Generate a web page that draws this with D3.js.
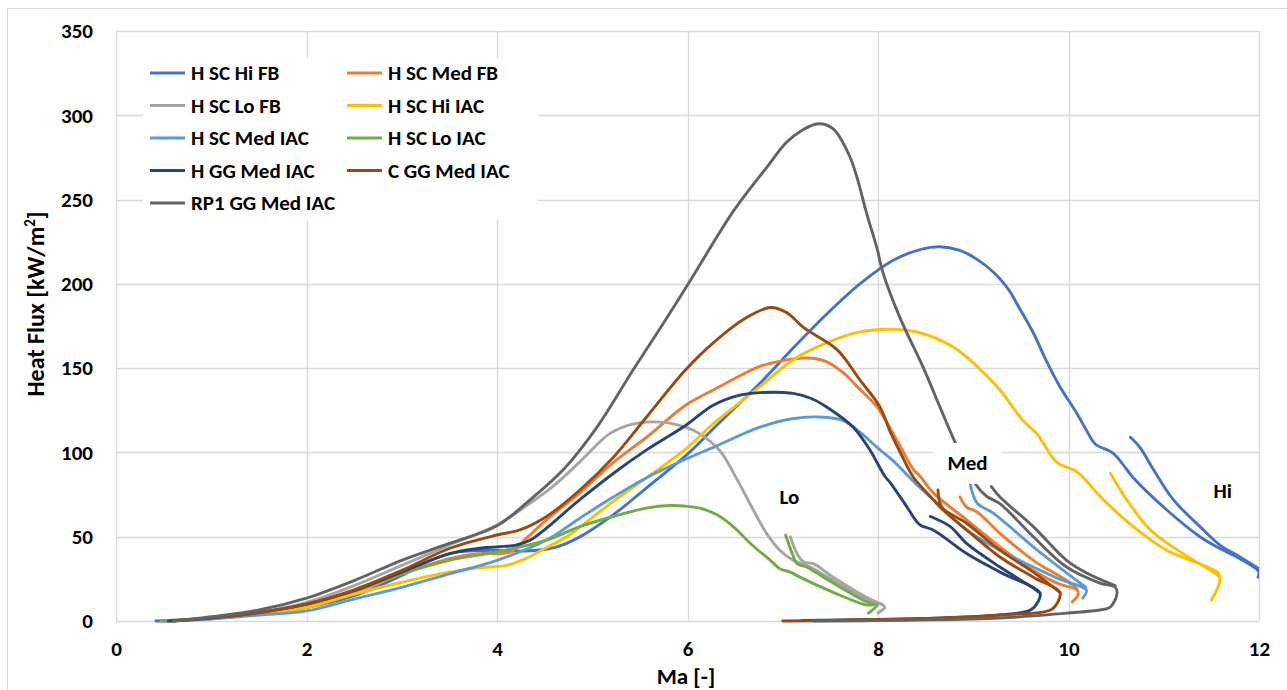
<!DOCTYPE html>
<html>
<head>
<meta charset="utf-8">
<script src="https://cdn.jsdelivr.net/npm/d3@7"></script>
<style>
  html, body { margin: 0; padding: 0; background: #fff; }
  svg { display: block; }
  text { font-family: Carlito, "Liberation Sans", Arial, sans-serif; font-weight: bold; fill: #000; }
</style>
</head>
<body>
<svg id="chart" width="1287" height="690"></svg>
<script>
// ---------------- DATA ----------------
const seriesNames = ["H SC Hi FB", "H SC Med FB", "H SC Lo FB", "H SC Hi IAC", "H SC Med IAC",
                     "H SC Lo IAC", "H GG Med IAC", "C GG Med IAC", "RP1 GG Med IAC"];
const seriesColors = ["#4472C4", "#ED7D31", "#A5A5A5", "#FFC000", "#5B9BD5",
                      "#70AD47", "#264478", "#9E480E", "#636363"];
const xTicks = [0, 2, 4, 6, 8, 10, 12];
const yTicks = [0, 50, 100, 150, 200, 250, 300, 350];

// [Ma, heat flux kW/m2]
const hScHiFB = [[0.42,0],[1,1.5],[1.5,4],[2,8],[2.5,15],[3,27],[3.3,36],[3.6,41],[4.0,42],[4.3,41.5],[4.6,43.5],[4.84,49],[5.22,63],[5.57,79],[6.0,99],[6.27,114],[6.76,141],[7.11,162],[7.46,182],[7.81,200],[8.16,214],[8.45,220.5],[8.65,222],[8.85,220],[9.0,216],[9.15,210],[9.28,203],[9.39,195],[9.46,188],[9.63,171],[9.77,154],[9.91,139],[10.09,123],[10.2,112],[10.28,105],[10.47,99.5],[10.61,90],[10.68,85],[11.03,66],[11.38,50],[11.59,43],[11.8,37],[11.97,31],[12.0,29],[11.99,26]];
const hScHiFB_b = [[10.65,109],[10.75,103],[10.89,90],[11.1,72],[11.38,56],[11.59,45],[11.8,38],[12.0,31]];

const hScMedFB = [[0.55,0],[1,1.5],[1.5,4.5],[2,9],[2.5,17],[3,28],[3.5,37],[3.8,40],[4.0,40],[4.15,41],[4.27,47],[4.52,60],[4.87,76],[5.22,94],[5.57,109],[5.98,128],[6.27,137],[6.76,151],[7.0,154.5],[7.25,156],[7.45,154],[7.64,147],[7.8,138],[7.99,127],[8.09,118],[8.23,104],[8.37,90],[8.44,86],[8.58,76],[8.93,60],[9.28,44],[9.63,30],[9.9,22],[10.09,18.4],[10.1,15.5],[10.04,11.4]];
const hScMedFB_b = [[8.86,73.6],[8.93,67.6],[9.04,64.7],[9.28,52],[9.63,36],[9.98,24],[10.09,19]];

const hScLoFB = [[0.5,0],[1,1.8],[1.5,5],[2,11],[2.5,21],[3,33],[3.5,45],[4.0,57],[4.3,68],[4.59,80],[4.88,95],[5.18,111],[5.4,116.5],[5.57,118],[5.8,117.5],[6.0,114.5],[6.13,111],[6.34,101],[6.52,84],[6.69,66],[6.83,52],[6.97,42],[7.11,36],[7.29,32],[7.53,24],[7.88,12.5],[8.05,9.5],[8.07,8],[8.0,4.7]];
const hScLoFB_b = [[7.08,50],[7.15,40],[7.22,35],[7.32,34],[7.53,26],[7.88,14],[8.05,9.5]];

const hScHiIAC = [[0.55,0],[1,1.5],[1.5,4],[2,8],[2.5,16],[3,23],[3.5,29],[3.8,31.5],[4.1,33],[4.3,37],[4.5,43],[4.73,50],[5.22,71],[5.57,85],[5.98,102],[6.27,117],[6.76,139],[7.11,155],[7.46,165],[7.81,171.5],[8.16,173],[8.44,171],[8.79,162.5],[9.04,151],[9.28,137],[9.52,119],[9.67,111],[9.73,106],[9.88,94],[10.09,88.5],[10.33,74],[10.68,56],[11.03,42],[11.24,37],[11.57,28.5],[11.59,24],[11.5,12.5]];
const hScHiIAC_b = [[10.44,87.6],[10.61,72],[10.86,54],[11.2,40],[11.52,29],[11.59,26]];

const hScMedIAC = [[0.5,0],[1,1.2],[1.5,3.5],[2,6],[2.5,13],[3,20],[3.5,28],[4,36],[4.52,48],[4.87,61],[5.22,73.5],[5.57,85],[5.98,96],[6.27,103],[6.76,115],[7.1,120],[7.39,121],[7.63,119],[7.81,112],[7.99,103],[8.16,95],[8.37,83],[8.58,72],[8.93,54],[9.28,42],[9.63,32],[9.9,25],[10.16,19.6],[10.19,18],[10.15,13.6]];
const hScMedIAC_b = [[8.97,81],[9.04,70],[9.21,64],[9.63,44],[9.98,28.5],[10.18,20]];

const hScLoIAC = [[0.47,0],[1,1.8],[1.5,5],[2,10],[2.5,18],[3,28],[3.5,36],[4,41],[4.52,48],[4.87,56],[5.22,62],[5.57,67],[5.82,68.5],[6.0,68],[6.13,67],[6.31,63],[6.48,56],[6.66,46],[6.87,36],[6.97,31],[7.08,29],[7.18,26],[7.53,17],[7.88,9.5],[7.99,9.5],[7.9,4.7]];
const hScLoIAC_b = [[7.03,51],[7.1,40],[7.15,34],[7.25,32],[7.53,22.5],[7.88,11.4],[7.99,9.5]];

const hGgMedIAC = [[0.55,0],[1,1.8],[1.5,5],[2,10],[2.5,18],[3,29],[3.5,40],[3.8,43],[4.0,44],[4.2,45],[4.35,48],[4.87,72],[5.22,87.5],[5.57,101.5],[5.98,116],[6.27,128],[6.55,134],[6.76,135.5],[7.11,135],[7.3,132],[7.46,127],[7.74,115],[7.92,101],[8.07,86],[8.13,82],[8.3,68],[8.44,57],[8.58,54],[8.93,40],[9.28,29],[9.7,16.6],[9.68,11.4],[9.6,6.5],[9.28,3.6],[8.5,1.5],[7.2,0.3]];
const hGgMedIAC_b = [[8.55,62],[8.76,56],[8.93,46],[9.28,32],[9.63,19.6],[9.7,16.6]];

const cGgMedIAC = [[0.6,0],[1,2],[1.5,5],[2,10],[2.5,18.5],[3,30],[3.5,43],[4.0,51],[4.24,54],[4.52,62],[4.87,77.7],[5.22,97],[5.57,121],[5.98,149],[6.27,165],[6.62,180],[6.87,186],[7.04,183],[7.22,174],[7.57,161],[7.81,143],[8.02,127],[8.13,112],[8.26,97],[8.37,85.4],[8.58,72],[8.68,66],[8.93,54],[9.28,38],[9.63,26],[9.91,17],[9.89,11.4],[9.81,6.5],[9.28,3.6],[8.5,1.5],[7.0,0]];
const cGgMedIAC_b = [[8.63,77.7],[8.67,67.6],[8.93,58],[9.28,42],[9.63,29],[9.91,17]];

const rp1GgMedIAC = [[0.6,0],[1,2.5],[1.5,6.5],[2,13.6],[2.5,24],[3,36],[3.5,46],[4.0,56.5],[4.35,72],[4.7,90],[5.05,115],[5.43,149],[5.74,176],[6.03,202],[6.48,243],[6.83,269],[7.04,284],[7.2,291],[7.37,295],[7.53,292],[7.7,276],[7.78,263],[7.88,242],[7.99,221],[8.05,207],[8.23,180],[8.47,151],[8.65,127],[8.81,106],[9.03,80.7],[9.14,74],[9.28,69.6],[9.63,50],[9.98,32],[10.33,22.5],[10.49,20],[10.51,16.6],[10.44,8.3],[10.33,6.5],[9.98,4.7],[9.28,1.8],[7.32,0]];
const rp1GgMedIAC_b = [[9.19,79.7],[9.28,73.6],[9.63,56],[9.98,36],[10.19,28.5],[10.49,21]];

const mainLines = [hScHiFB, hScMedFB, hScLoFB, hScHiIAC, hScMedIAC, hScLoIAC, hGgMedIAC, cGgMedIAC, rp1GgMedIAC];
const branchLines = [hScHiFB_b, hScMedFB_b, hScLoFB_b, hScHiIAC_b, hScMedIAC_b, hScLoIAC_b, hGgMedIAC_b, cGgMedIAC_b, rp1GgMedIAC_b];

const regimeLabels = ["Lo", "Med", "Hi"];
const regimeAt = [[7.07, 73.5], [8.94, 93.7], [11.62, 77]];

// ---------------- DRAW ----------------
const svg = d3.select("#chart");
const W = 1287, H = 690;
const FONT = 'Carlito, "Liberation Sans", Arial, sans-serif';

// outer chart border
svg.append("rect").attr("x", 7.5).attr("y", 8.5).attr("width", W).attr("height", H)
  .attr("fill", "#fff").attr("stroke", "#D9D9D9").attr("stroke-width", 1);

const x = d3.scaleLinear().domain([0, 12]).range([116, 1259]);
const y = d3.scaleLinear().domain([0, 350]).range([621, 31]);

// gridlines
const grid = svg.append("g");
grid.selectAll("line.h").data(yTicks).join("line")
  .attr("x1", x(0)).attr("x2", x(12))
  .attr("y1", d => Math.round(y(d)) + 0.5).attr("y2", d => Math.round(y(d)) + 0.5)
  .attr("stroke", "#D9D9D9").attr("stroke-width", 1.3);
grid.selectAll("line.v").data(xTicks).join("line")
  .attr("y1", y(0)).attr("y2", y(350))
  .attr("x1", d => Math.round(x(d)) + 0.5).attr("x2", d => Math.round(x(d)) + 0.5)
  .attr("stroke", "#D9D9D9").attr("stroke-width", 1.3);

// axes tick labels via d3 axes
const yAxis = d3.axisLeft(y).tickValues(yTicks).tickSize(0).tickPadding(23);
const xAxis = d3.axisBottom(x).tickValues(xTicks).tickSize(0).tickPadding(20);
const ya = svg.append("g").attr("transform", `translate(${x(0)},0)`).call(yAxis);
const xa = svg.append("g").attr("transform", `translate(0,${y(0)})`).call(xAxis);
[ya, xa].forEach(a => {
  a.select(".domain").remove();
  a.attr("font-family", null).attr("font-size", null);
  a.selectAll("text").attr("font-size", 21).attr("font-weight", "bold").attr("fill", "#000")
    .style("font-family", FONT);
});

// axis titles
svg.append("text").attr("x", 686).attr("y", 684).attr("text-anchor", "middle")
  .attr("font-size", 23).text("Ma [-]");
svg.append("text").attr("transform", "translate(44,304) rotate(-90)").attr("text-anchor", "middle")
  .attr("font-size", 24)
  .call(t => { t.append("tspan").text("Heat Flux [kW/m"); t.append("tspan").attr("font-size", 15).attr("dy", -9).text("2"); t.append("tspan").attr("dy", 9).text("]"); });

// clip
svg.append("clipPath").attr("id", "plotclip").append("rect")
  .attr("x", x(0) - 5).attr("y", y(350) - 5).attr("width", x(12) - x(0) + 5).attr("height", y(0) - y(350) + 10);

const line = d3.line().x(d => x(d[0])).y(d => y(d[1])).curve(d3.curveCatmullRom.alpha(0.5));
const plot = svg.append("g").attr("clip-path", "url(#plotclip)");
seriesNames.forEach((name, i) => {
  const g = plot.append("g");
  [mainLines[i], branchLines[i]].forEach(data => {
    g.append("path").datum(data).attr("d", line)
      .attr("fill", "none").attr("stroke", seriesColors[i]).attr("stroke-width", 2.9)
      .attr("stroke-linejoin", "round").attr("stroke-linecap", "round");
  });
});

// legend
const lg = svg.append("g");
lg.append("rect").attr("x", 143).attr("y", 58).attr("width", 395).attr("height", 162).attr("fill", "#fff");
seriesNames.forEach((name, i) => {
  const col = i % 2, row = Math.floor(i / 2);
  const lx = 150 + col * 197, ly = 73 + row * 32.5;
  lg.append("line").attr("x1", lx).attr("x2", lx + 35).attr("y1", ly).attr("y2", ly)
    .attr("stroke", seriesColors[i]).attr("stroke-width", 2.9);
  lg.append("text").attr("x", lx + 41).attr("y", ly + 7).attr("font-size", 21).text(name);
});

// regime labels
regimeLabels.forEach((lab, i) => {
  const cx = x(regimeAt[i][0]), cy = y(regimeAt[i][1]);
  const t = svg.append("text").attr("x", cx).attr("y", cy + 7).attr("text-anchor", "middle")
    .attr("font-size", 21).text(lab);
  const bb = t.node().getBBox();
  svg.insert("rect", () => t.node()).attr("x", bb.x - 14).attr("y", cy - 20)
    .attr("width", bb.width + 28).attr("height", 41).attr("fill", "#fff");
});
</script>
</body>
</html>
